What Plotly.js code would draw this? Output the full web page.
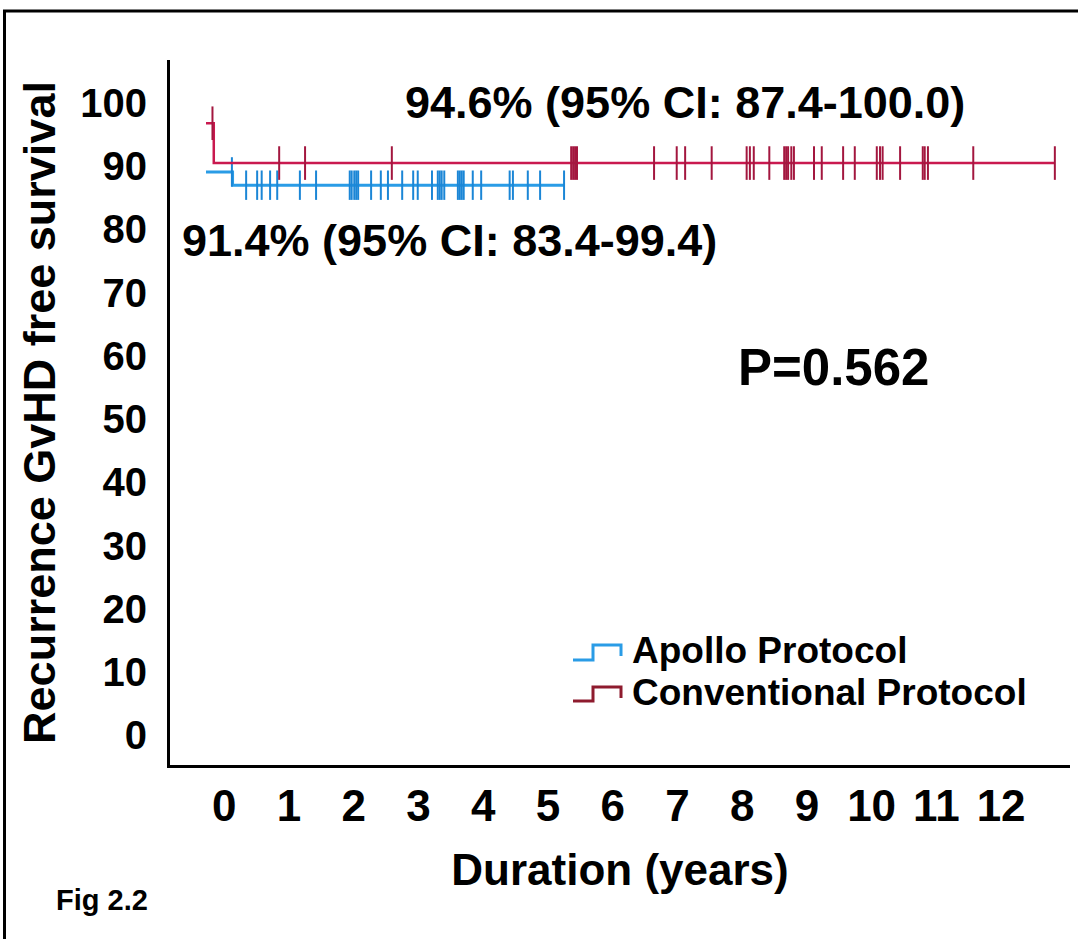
<!DOCTYPE html>
<html>
<head>
<meta charset="utf-8">
<script src="https://cdn.plot.ly/plotly-3.0.1.min.js"></script>
<style>
  html, body { margin: 0; padding: 0; background: #ffffff; }
  #chart { width: 1078px; height: 939px; }
</style>
</head>
<body>
<div id="chart"></div>
<script>
// ---- Data ----
const seriesNames = ["Apollo Protocol", "Conventional Protocol"];

// Kaplan-Meier steps (time in years, survival in %)
const apolloTimes = [0, 0.41, 5.53];
const apolloSurv  = [89.1, 87.0, 87.0];
const conventionalTimes = [0, 0.12, 13.11];
const conventionalSurv  = [96.8, 90.5, 90.5];

// Censored observations (time in years)
const apolloCensor = [0.40, 0.62, 0.79, 0.86, 0.99, 1.10, 1.45, 1.70, 2.22, 2.25, 2.29, 2.32, 2.35,
  2.55, 2.70, 2.81, 3.03, 3.20, 3.27, 3.49, 3.58, 3.61, 3.64, 3.68, 3.89, 3.92, 3.95, 3.98,
  4.12, 4.25, 4.69, 4.74, 4.97, 5.16, 5.53];
const conventionalCensor = [0.10, 1.13, 1.53, 2.87, 5.64, 5.67, 5.70, 5.73, 6.92, 7.27, 7.40, 7.81,
  8.35, 8.40, 8.46, 8.70, 8.93, 8.96, 8.99, 9.04, 9.08, 9.39, 9.51, 9.84, 10.02, 10.36, 10.41,
  10.45, 10.72, 11.07, 11.10, 11.15, 11.85, 13.11];

// Axis tick labels
const xTickLabels = [0, 1, 2, 3, 4, 5, 6, 7, 8, 9, 10, 11, 12];
const yTickLabels = [0, 10, 20, 30, 40, 50, 60, 70, 80, 90, 100];

// Text
const annotConventional = "94.6% (95% CI: 87.4-100.0)";
const annotApollo = "91.4% (95% CI: 83.4-99.4)";
const pValueText = "P=0.562";
const figLabel = "Fig 2.2";

// ---- Layout helpers (pixel -> paper) ----
const W = 1078, H = 939;
const PL = 170, PR = 1070, PT = 60, PB = 765;
const px = x => (x - PL) / (PR - PL);
const py = y => (PB - y) / (PB - PT);
const TICK_OFFSET = 0.28; // printed tick labels sit slightly right of the curve origin

function survAt(times, surv, t) {
  let v = surv[0];
  for (let i = 0; i < times.length; i++) if (times[i] <= t) v = surv[i];
  return v;
}

const FONT = "Liberation Sans, Arial, Helvetica, sans-serif";
const blue = "#2a9ce6", blueTick = "#1b86d6";
const red = "#c9194f", redTick = "#a3173f";

const traces = [
  { x: apolloTimes, y: apolloSurv, type: "scatter", mode: "lines", name: seriesNames[0],
    line: { shape: "hv", color: blue, width: 3 }, showlegend: false, hoverinfo: "skip" },
  { x: apolloCensor, y: apolloCensor.map(t => survAt(apolloTimes, apolloSurv, t)),
    type: "scatter", mode: "markers", name: seriesNames[0] + " censored", showlegend: false,
    marker: { symbol: "line-ns", size: 21, line: { width: 2, color: blueTick } } },
  { x: conventionalTimes, y: conventionalSurv, type: "scatter", mode: "lines", name: seriesNames[1],
    line: { shape: "hv", color: red, width: 2.5 }, showlegend: false, hoverinfo: "skip" },
  { x: conventionalCensor, y: conventionalCensor.map(t => survAt(conventionalTimes, conventionalSurv, t)),
    type: "scatter", mode: "markers", name: seriesNames[1] + " censored", showlegend: false,
    marker: { symbol: "line-ns", size: 24, line: { width: 2, color: redTick } } }
];

const bold = (size, family) => ({ family: family || FONT, size: size, color: "#000000", weight: 700 });

const layout = {
  width: W, height: H,
  margin: { l: PL, r: W - PR, t: PT, b: H - PB, pad: 0 },
  paper_bgcolor: "#ffffff", plot_bgcolor: "#ffffff",
  showlegend: false,
  xaxis: {
    range: [-0.556, 13.344],
    showgrid: false, zeroline: false,
    showline: true, linecolor: "#000000", linewidth: 3,
    ticks: "", tickvals: xTickLabels.map(k => k + TICK_OFFSET), ticktext: xTickLabels.map(String),
    tickfont: bold(44), ticklabelstandoff: 0,
    title: { text: "Duration (years)", font: bold(44), standoff: 26 }
  },
  yaxis: {
    range: [-4.7, 106.8],
    showgrid: false, zeroline: false,
    showline: true, linecolor: "#000000", linewidth: 3,
    ticks: "", tickvals: yTickLabels, ticktext: yTickLabels.map(String),
    tickfont: bold(40), ticklabelstandoff: 12,
    title: { text: "Recurrence GvHD free survival", font: bold(45), standoff: 11 }
  },
  annotations: [
    { text: annotConventional, xref: "paper", yref: "paper", x: px(685), y: py(103),
      xanchor: "center", yanchor: "middle", showarrow: false, font: bold(45) },
    { text: annotApollo, xref: "paper", yref: "paper", x: px(449), y: py(240),
      xanchor: "center", yanchor: "middle", showarrow: false, font: bold(45) },
    { text: pValueText, xref: "paper", yref: "paper", x: px(833), y: py(367),
      xanchor: "center", yanchor: "middle", showarrow: false, font: bold(51) },
    { text: seriesNames[0], xref: "paper", yref: "paper", x: px(630), y: py(650),
      xanchor: "left", yanchor: "middle", showarrow: false, font: bold(37) },
    { text: seriesNames[1], xref: "paper", yref: "paper", x: px(630), y: py(692),
      xanchor: "left", yanchor: "middle", showarrow: false, font: bold(37) },
    { text: figLabel, xref: "paper", yref: "paper", x: px(54), y: py(900),
      xanchor: "left", yanchor: "middle", showarrow: false, font: bold(29) }
  ],
  shapes: [
    // legend icons
    { type: "path", xref: "paper", yref: "paper",
      path: `M ${px(573)},${py(660)} L ${px(593)},${py(660)} L ${px(593)},${py(645)} L ${px(621)},${py(645)} L ${px(621)},${py(656)}`,
      line: { color: blue, width: 3 } },
    { type: "path", xref: "paper", yref: "paper",
      path: `M ${px(573)},${py(701)} L ${px(593)},${py(701)} L ${px(593)},${py(687)} L ${px(621)},${py(687)} L ${px(621)},${py(698)}`,
      line: { color: "#8e1b2e", width: 3 } },
    // figure frame (top and left)
    { type: "line", xref: "paper", yref: "paper", x0: px(3), x1: px(1078), y0: py(11), y1: py(11),
      line: { color: "#000000", width: 3 } },
    { type: "line", xref: "paper", yref: "paper", x0: px(4.5), x1: px(4.5), y0: py(10), y1: py(939),
      line: { color: "#000000", width: 3 } }
  ]
};

Plotly.newPlot("chart", traces, layout, { staticPlot: true, displayModeBar: false });
</script>
</body>
</html>
